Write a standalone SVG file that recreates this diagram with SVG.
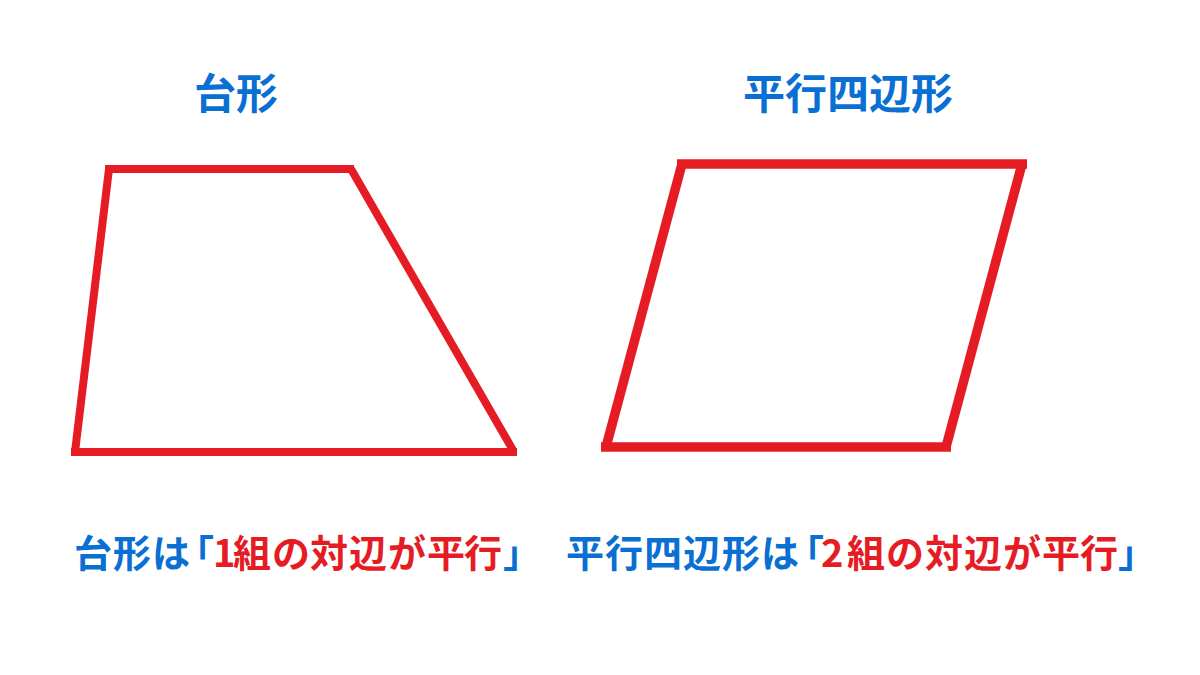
<svg xmlns="http://www.w3.org/2000/svg" width="1200" height="675" viewBox="0 0 1200 675">
<style>
.t{font-family:"Noto Sans CJK JP","Noto Sans CJK SC",sans-serif;font-weight:700}
.b{fill:#0a6fd2}
.r{fill:#e51c24}
.e{stroke:#e51c24;fill:none;stroke-linecap:butt}
</style>
<rect width="1200" height="675" fill="#ffffff"/>
<g id="title-trapezoid"><text class="t b" x="236" y="109" font-size="42" text-anchor="middle">台形</text></g>
<g id="title-parallelogram"><text class="t b" x="848" y="109" font-size="42" text-anchor="middle">平行四辺形</text></g>
<g id="trapezoid" class="e" stroke-width="8">
<line x1="105" y1="169" x2="354" y2="169"/>
<line x1="71" y1="452" x2="517" y2="452"/>
<line x1="109" y1="169" x2="75" y2="452"/>
<line x1="351" y1="169" x2="514" y2="452"/>
</g>
<g id="parallelogram" class="e" stroke-width="9.5">
<line x1="677" y1="164" x2="1027" y2="164"/>
<line x1="601" y1="447" x2="951" y2="447"/>
<line x1="682" y1="164" x2="606" y2="447"/>
<line x1="1022" y1="164" x2="946" y2="447"/>
</g>
<g id="caption-trapezoid"><text class="t" y="567" font-size="38"><tspan class="b" x="74 113 152 176">台形は「</tspan><tspan class="r" x="213 233 272 310 349 388 427 464">1組の対辺が平行</tspan><tspan class="b" x="503">」</tspan></text></g>
<g id="caption-parallelogram"><text class="t" y="567" font-size="38"><tspan class="b" x="566 605 644 683 722 761 786">平行四辺形は「</tspan><tspan class="r" x="821 847 886 925 964 1003 1042 1080">2組の対辺が平行</tspan><tspan class="b" x="1118">」</tspan></text></g>
</svg>
